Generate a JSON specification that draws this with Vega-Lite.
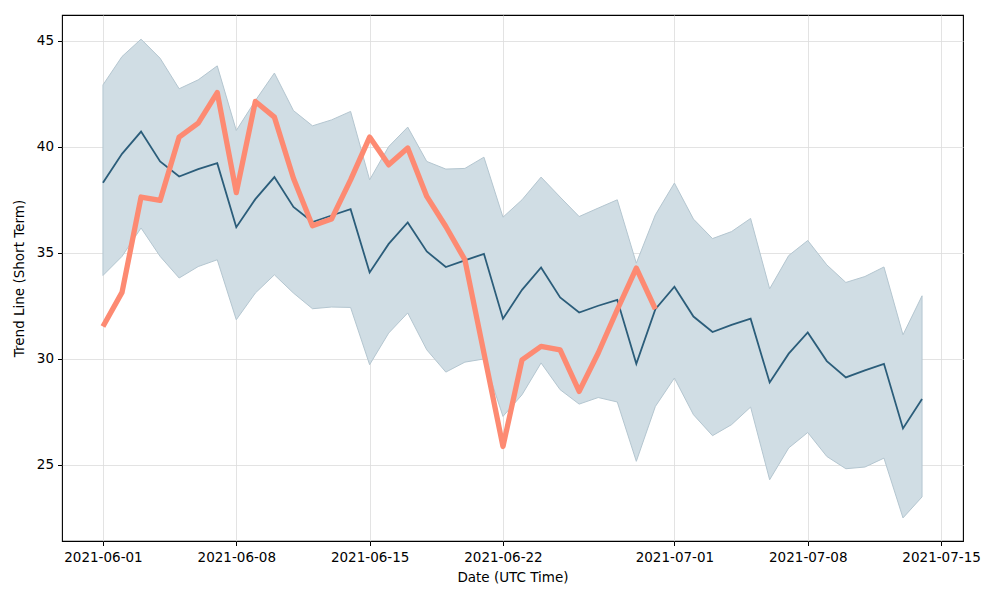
{
  "$schema": "https://vega.github.io/schema/vega-lite/v6.json",
  "width": 901,
  "height": 526,
  "autosize": {"type": "none"},
  "padding": {"left": 62, "top": 15, "right": 37, "bottom": 59},
  "background": "white",
  "config": {
    "font": "DejaVu Sans",
    "view": {"stroke": "black", "strokeWidth": 1.1},
    "axis": {
      "labelFont": "DejaVu Sans",
      "titleFont": "DejaVu Sans",
      "labelFontSize": 13.5,
      "titleFontSize": 13.5,
      "titleFontWeight": "normal",
      "labelColor": "black",
      "titleColor": "black",
      "tickColor": "black",
      "tickSize": 4.5,
      "domain": false,
      "gridColor": "#dcdcdc",
      "gridOpacity": 0.8,
      "gridWidth": 1
    }
  },
  "data": {
    "values": [
      {"date": "2021-06-01", "trend": 38.30, "upper": 42.92, "lower": 33.93, "actual": 31.52},
      {"date": "2021-06-02", "trend": 39.67, "upper": 44.26, "lower": 34.83, "actual": 33.13},
      {"date": "2021-06-03", "trend": 40.72, "upper": 45.08, "lower": 36.17, "actual": 37.63},
      {"date": "2021-06-04", "trend": 39.31, "upper": 44.18, "lower": 34.83, "actual": 37.47},
      {"date": "2021-06-05", "trend": 38.60, "upper": 42.74, "lower": 33.81, "actual": 40.46},
      {"date": "2021-06-06", "trend": 38.95, "upper": 43.16, "lower": 34.35, "actual": 41.12},
      {"date": "2021-06-07", "trend": 39.23, "upper": 43.82, "lower": 34.67, "actual": 42.56},
      {"date": "2021-06-08", "trend": 36.21, "upper": 40.77, "lower": 31.84, "actual": 37.84},
      {"date": "2021-06-09", "trend": 37.53, "upper": 42.18, "lower": 33.10, "actual": 42.14},
      {"date": "2021-06-10", "trend": 38.57, "upper": 43.48, "lower": 33.96, "actual": 41.40},
      {"date": "2021-06-11", "trend": 37.16, "upper": 41.71, "lower": 33.10, "actual": 38.52},
      {"date": "2021-06-12", "trend": 36.45, "upper": 40.99, "lower": 32.36, "actual": 36.27},
      {"date": "2021-06-13", "trend": 36.76, "upper": 41.27, "lower": 32.44, "actual": 36.59},
      {"date": "2021-06-14", "trend": 37.06, "upper": 41.67, "lower": 32.42, "actual": 38.44},
      {"date": "2021-06-15", "trend": 34.07, "upper": 38.44, "lower": 29.72, "actual": 40.46},
      {"date": "2021-06-16", "trend": 35.42, "upper": 40.01, "lower": 31.21, "actual": 39.15},
      {"date": "2021-06-17", "trend": 36.43, "upper": 40.93, "lower": 32.16, "actual": 39.94},
      {"date": "2021-06-18", "trend": 35.06, "upper": 39.31, "lower": 30.42, "actual": 37.66},
      {"date": "2021-06-19", "trend": 34.33, "upper": 38.95, "lower": 29.37, "actual": 36.24},
      {"date": "2021-06-20", "trend": 34.64, "upper": 38.98, "lower": 29.84, "actual": 34.67},
      {"date": "2021-06-21", "trend": 34.95, "upper": 39.51, "lower": 29.99, "actual": 30.27},
      {"date": "2021-06-22", "trend": 31.89, "upper": 36.68, "lower": 27.28, "actual": 25.86},
      {"date": "2021-06-23", "trend": 33.25, "upper": 37.50, "lower": 28.30, "actual": 29.95},
      {"date": "2021-06-24", "trend": 34.31, "upper": 38.57, "lower": 29.80, "actual": 30.58},
      {"date": "2021-06-25", "trend": 32.89, "upper": 37.63, "lower": 28.54, "actual": 30.42},
      {"date": "2021-06-26", "trend": 32.18, "upper": 36.71, "lower": 27.86, "actual": 28.46},
      {"date": "2021-06-27", "trend": 32.50, "upper": 37.11, "lower": 28.17, "actual": 30.27},
      {"date": "2021-06-28", "trend": 32.78, "upper": 37.50, "lower": 27.96, "actual": 32.31},
      {"date": "2021-06-29", "trend": 29.76, "upper": 34.51, "lower": 25.16, "actual": 34.28},
      {"date": "2021-06-30", "trend": 32.34, "upper": 36.79, "lower": 27.75, "actual": 32.34},
      {"date": "2021-07-01", "trend": 33.40, "upper": 38.29, "lower": 29.09, "actual": null},
      {"date": "2021-07-02", "trend": 31.99, "upper": 36.59, "lower": 27.36, "actual": null},
      {"date": "2021-07-03", "trend": 31.26, "upper": 35.67, "lower": 26.37, "actual": null},
      {"date": "2021-07-04", "trend": 31.60, "upper": 36.00, "lower": 26.89, "actual": null},
      {"date": "2021-07-05", "trend": 31.89, "upper": 36.62, "lower": 27.72, "actual": null},
      {"date": "2021-07-06", "trend": 28.88, "upper": 33.30, "lower": 24.29, "actual": null},
      {"date": "2021-07-07", "trend": 30.24, "upper": 34.87, "lower": 25.79, "actual": null},
      {"date": "2021-07-08", "trend": 31.24, "upper": 35.58, "lower": 26.52, "actual": null},
      {"date": "2021-07-09", "trend": 29.89, "upper": 34.43, "lower": 25.39, "actual": null},
      {"date": "2021-07-10", "trend": 29.12, "upper": 33.60, "lower": 24.81, "actual": null},
      {"date": "2021-07-11", "trend": 29.45, "upper": 33.88, "lower": 24.89, "actual": null},
      {"date": "2021-07-12", "trend": 29.76, "upper": 34.33, "lower": 25.31, "actual": null},
      {"date": "2021-07-13", "trend": 26.71, "upper": 31.13, "lower": 22.49, "actual": null},
      {"date": "2021-07-14", "trend": 28.10, "upper": 32.97, "lower": 23.48, "actual": null}
    ]
  },
  "encoding": {
    "x": {
      "field": "date",
      "type": "temporal",
      "scale": {
        "type": "utc",
        "domain": [
          {"year": 2021, "month": 5, "date": 29, "hours": 20, "minutes": 24, "utc": true},
          {"year": 2021, "month": 7, "date": 16, "hours": 3, "minutes": 36, "utc": true}
        ]
      },
      "axis": {
        "title": "Date (UTC Time)",
        "labelExpr": "utcFormat(datum.value, '%Y-%m-%d')",
        "labelPadding": 5,
        "titlePadding": 6,
        "labelFlush": false,
        "labelOverlap": false,
        "values": [
          {"year": 2021, "month": 6, "date": 1, "utc": true},
          {"year": 2021, "month": 6, "date": 8, "utc": true},
          {"year": 2021, "month": 6, "date": 15, "utc": true},
          {"year": 2021, "month": 6, "date": 22, "utc": true},
          {"year": 2021, "month": 7, "date": 1, "utc": true},
          {"year": 2021, "month": 7, "date": 8, "utc": true},
          {"year": 2021, "month": 7, "date": 15, "utc": true}
        ]
      }
    }
  },
  "layer": [
    {
      "mark": {"type": "area", "color": "#d0dde4", "stroke": "#b4c6d0", "strokeWidth": 1, "opacity": 1},
      "encoding": {
        "y": {
          "field": "lower",
          "type": "quantitative",
          "scale": {"domain": [21.4, 46.22], "nice": false, "zero": false},
          "axis": {
            "title": "Trend Line (Short Term)",
            "values": [25, 30, 35, 40, 45],
            "labelPadding": 4,
            "titlePadding": 10,
            "labelFlush": false
          }
        },
        "y2": {"field": "upper"}
      }
    },
    {
      "mark": {"type": "line", "color": "#2b5d7a", "strokeWidth": 1.8},
      "encoding": {
        "y": {"field": "trend", "type": "quantitative"}
      }
    },
    {
      "transform": [{"filter": "datum.actual != null"}],
      "mark": {"type": "line", "color": "#fd8a72", "strokeWidth": 5.3, "strokeJoin": "round", "strokeCap": "butt"},
      "encoding": {
        "y": {"field": "actual", "type": "quantitative"}
      }
    }
  ]
}
